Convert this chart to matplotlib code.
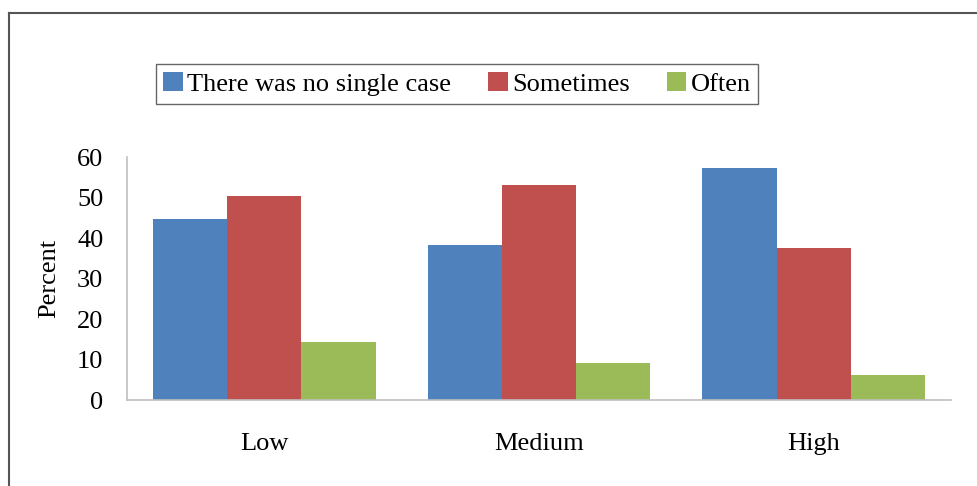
import numpy as np
import matplotlib.pyplot as plt

plt.rcParams.update({
    "font.family": ["Liberation Serif", "DejaVu Serif"],
    "font.size": 19,
})

categories = ["Low", "Medium", "High"]
series_names = ["There was no single case", "Sometimes", "Often"]
no_case = [44.7, 38.3, 57.3]
sometimes = [50.4, 53.1, 37.5]
often = [14.3, 9.1, 6.2]
colors = ["#4f81bd", "#c0504d", "#9bbb59"]

fig = plt.figure(figsize=(9.78, 4.86), dpi=100)
ax = fig.add_axes([127 / 978, 1 - 400 / 486, (951 - 127) / 978, (400 - 157) / 486])

x = np.arange(len(categories))
w = 0.27
for i, (vals, name) in enumerate(zip([no_case, sometimes, often], series_names)):
    ax.bar(x + (i - 1) * w, vals, w, color=colors[i], label=name, edgecolor="none")

ax.set_xlim(-0.5, 2.5)
ax.set_ylim(0, 60)
ax.set_yticks(range(0, 61, 10))
ax.set_xticks(x)
ax.set_xticklabels(categories)
ax.tick_params(axis="both", length=0, pad=17)
ax.tick_params(axis="x", pad=24)
ax.set_ylabel("Percent", labelpad=12)
for s in ["top", "right"]:
    ax.spines[s].set_visible(False)
for s in ["left", "bottom"]:
    ax.spines[s].set_color("#bfbfbf")
    ax.spines[s].set_linewidth(1.2)

leg = fig.legend(loc="center", bbox_to_anchor=(457 / 978, 1 - 84 / 486), ncol=3,
                 frameon=True, fancybox=False, edgecolor="#404040",
                 handlelength=0.75, handleheight=0.75, handletextpad=0.15,
                 columnspacing=1.4, borderpad=0.3, fontsize=19)
leg.get_frame().set_linewidth(1.0)

# outer frame (left and top edges)
fig.add_artist(plt.Line2D([9 / 978, 9 / 978], [0, 1 - 13 / 486], color="#555555", lw=1.5))
fig.add_artist(plt.Line2D([9 / 978, 1], [1 - 13 / 486, 1 - 13 / 486], color="#555555", lw=1.5))

fig.savefig("out.png", dpi=100)
